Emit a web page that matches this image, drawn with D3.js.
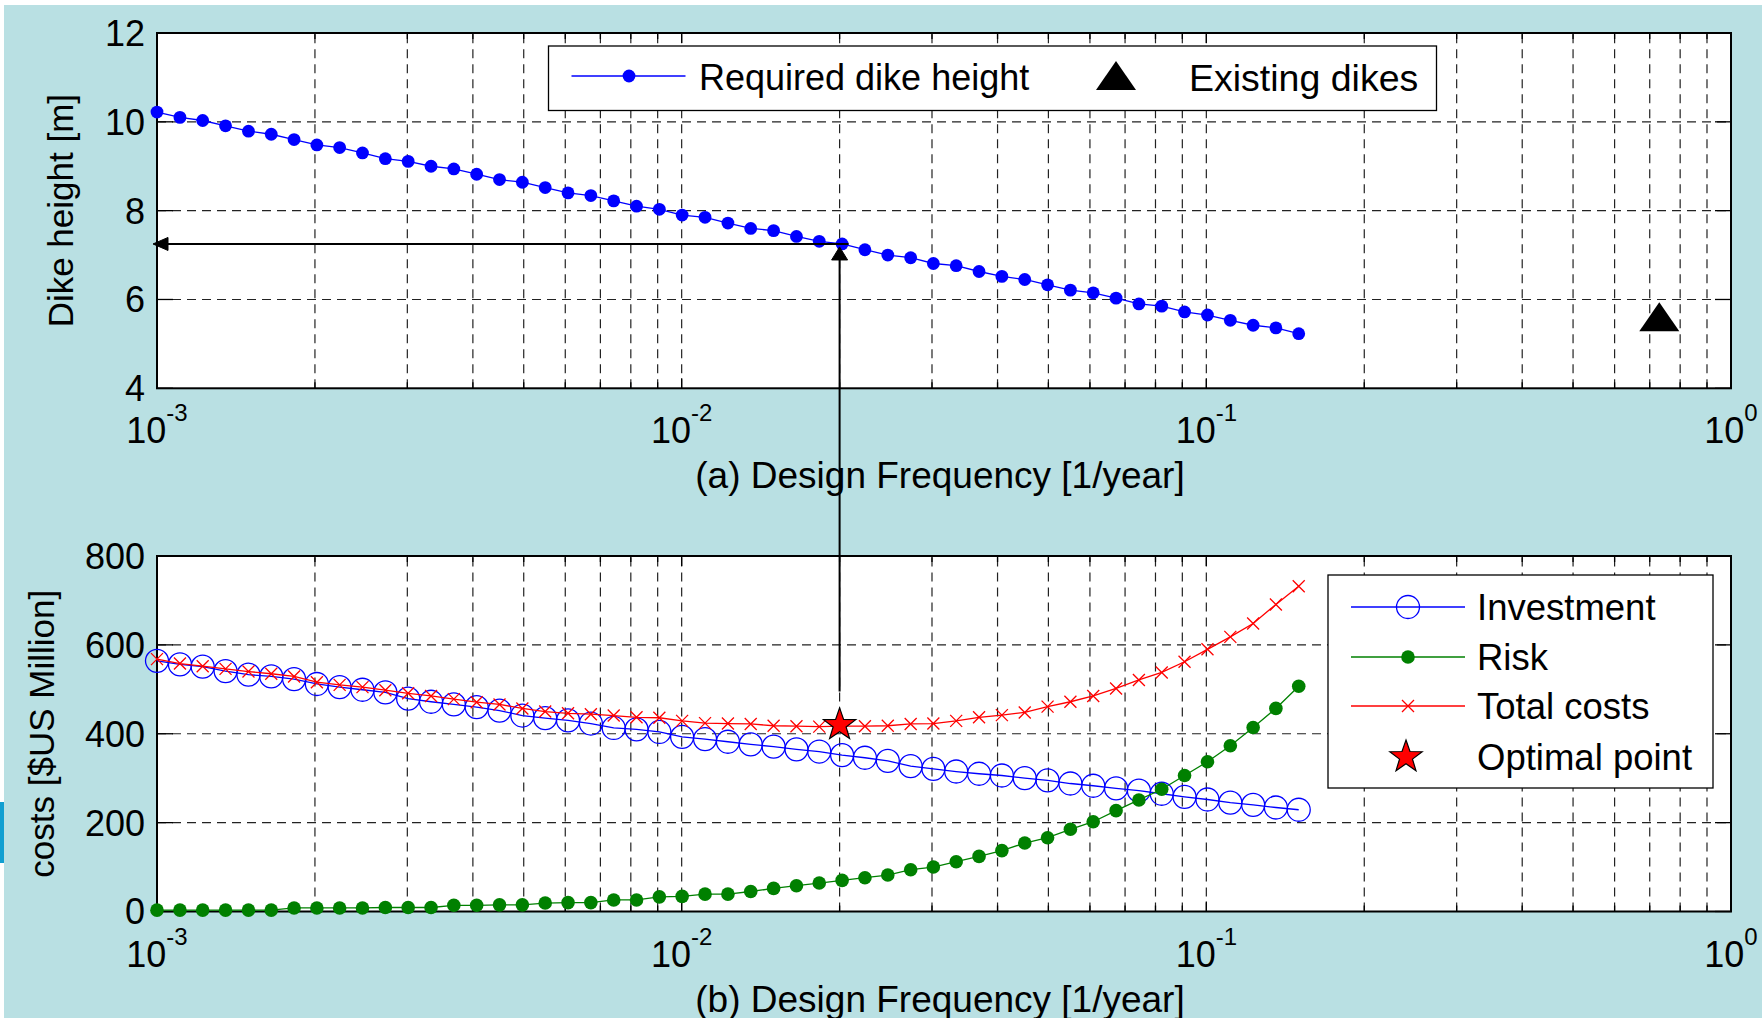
<!DOCTYPE html>
<html>
<head>
<meta charset="utf-8">
<script src="https://cdn.jsdelivr.net/npm/d3@7"></script>
<style>
    body { margin: 0; background: #fff; }
    svg text { font-family: "Liberation Sans", Arial, Helvetica, sans-serif; fill: #000; }
</style>
</head>
<body>
<div id="chart"></div>
<script>
// design frequency [1/year], log spaced from 1/1000 to 0.15
const freq = [0.001, 0.001106, 0.001222, 0.001351, 0.001494, 0.001651, 0.001825, 0.002017, 0.002229, 0.002464,
    0.002724, 0.003011, 0.003329, 0.003679, 0.004067, 0.004496, 0.004970, 0.005494, 0.006073, 0.006713,
    0.007421, 0.008203, 0.009067, 0.01002, 0.01108, 0.01225, 0.01354, 0.01497, 0.01655, 0.01829,
    0.02022, 0.02235, 0.02471, 0.02732, 0.03018, 0.03336, 0.03688, 0.04077, 0.04507, 0.04982,
    0.05507, 0.06087, 0.06729, 0.07438, 0.08222, 0.09088, 0.1005, 0.1111, 0.1228, 0.1357, 0.15];

// required dike height [m]
const dikeHeight = [10.22, 10.10, 10.03, 9.91, 9.79, 9.72, 9.60, 9.48, 9.42, 9.30,
    9.17, 9.11, 9.00, 8.94, 8.82, 8.70, 8.64, 8.52, 8.40, 8.34,
    8.22, 8.10, 8.03, 7.90, 7.85, 7.72, 7.60, 7.55, 7.42, 7.31,
    7.25, 7.12, 7.00, 6.94, 6.81, 6.76, 6.63, 6.52, 6.45, 6.33,
    6.21, 6.15, 6.03, 5.90, 5.85, 5.72, 5.65, 5.53, 5.42, 5.36, 5.23];

// costs [$US Million]
const investment = [564, 556, 551, 541, 533, 529, 523, 512, 505, 499,
    493, 479, 472, 466, 460, 452, 441, 435, 430, 423,
    413, 410, 404, 393, 388, 382, 376, 371, 365, 360,
    352, 346, 339, 327, 321, 315, 310, 306, 300, 295,
    288, 283, 277, 272, 265, 258, 252, 245, 240, 234, 229];

const risk = [3, 3, 3, 3, 3, 3, 8, 8, 8, 8,
    9, 9, 9, 14, 14, 15, 15, 19, 20, 20,
    26, 26, 33, 34, 39, 39, 45, 52, 58, 64,
    70, 76, 82, 94, 100, 112, 124, 137, 154, 166,
    185, 202, 227, 251, 275, 306, 337, 373, 414, 457, 507];

const totalCost = [568, 558, 552, 546, 540, 535, 529, 516, 510, 505,
    498, 491, 485, 478, 471, 466, 457, 450, 446, 444,
    441, 437, 436, 429, 424, 423, 422, 418, 417, 416,
    417, 417, 418, 422, 423, 429, 437, 442, 448, 461,
    472, 485, 502, 521, 538, 562, 590, 618, 648, 691, 732];

const existingDikes = [{f: 0.73, h: 5.6}];
const optimal = [{f: 0.02, cost: 420, height: 7.25}];
const arrowStartCost = 495;

const xTickValues = [1e-3, 1e-2, 1e-1, 1];
const xTickExp = ["-3", "-2", "-1", "0"];
const heightTicks = [4, 6, 8, 10, 12];
const costTicks = [0, 200, 400, 600, 800];

const costSeries = ["Investment", "Risk", "Total costs", "Optimal point"];

let width = 1762,
    height = 1018,
    left = 157,
    right = 1731,
    font_size = 36;

const svg = d3.select("#chart").append("svg")
    .attr("width", width)
    .attr("height", height);

svg.append("rect").attr("width", width).attr("height", height).attr("fill", "#fff");
svg.append("rect")
    .attr("x", 4).attr("y", 5)
    .attr("width", width - 4).attr("height", height - 5)
    .attr("fill", "#b9e0e3");
svg.append("rect")
    .attr("x", 0).attr("y", 802)
    .attr("width", 4).attr("height", 61)
    .attr("fill", "#119fd1");

const x = d3.scaleLog().domain([1e-3, 1]).range([left, right]);
const yTop = d3.scaleLinear().domain([4, 12]).range([388.3, 33]);
const yBot = d3.scaleLinear().domain([0, 800]).range([911.5, 556]);

function starPath(cx, cy, r) {
    let pts = [];
    for (let i = 0; i < 10; i++) {
        let rr = i % 2 ? r * 0.4 : r;
        let a = -Math.PI / 2 + i * Math.PI / 5;
        pts.push([cx + rr * Math.cos(a), cy + rr * Math.sin(a)]);
    }
    return "M" + pts.join("L") + "Z";
}

function trianglePath(cx, cy) {
    return `M${cx - 20},${cy + 14}L${cx + 20},${cy + 14}L${cx},${cy - 15}Z`;
}

function xMark(g, cx, cy, s) {
    g.append("path")
        .attr("d", `M${cx - s},${cy - s}L${cx + s},${cy + s}M${cx - s},${cy + s}L${cx + s},${cy - s}`)
        .attr("stroke", "#ff0000")
        .attr("stroke-width", 1.3)
        .attr("fill", "none");
}

function frame(y, yTicks, title, yTitle, yTitleX) {
    let [y0, y1] = y.range();
    let g = svg.append("g");

    g.append("rect")
        .attr("x", left).attr("y", y1)
        .attr("width", right - left).attr("height", y0 - y1)
        .attr("fill", "#fff");

    let grid = g.append("g")
        .attr("stroke", "#222")
        .attr("stroke-width", 1.2)
        .attr("stroke-dasharray", "9,6");

    grid.selectAll("line.v")
        .data(x.ticks().filter(d => d > 1e-3 && d < 1))
        .enter().append("line")
        .attr("class", "v")
        .attr("x1", d => x(d)).attr("x2", d => x(d))
        .attr("y1", y0).attr("y2", y1);

    grid.selectAll("line.h")
        .data(yTicks.slice(1, -1))
        .enter().append("line")
        .attr("class", "h")
        .attr("x1", left).attr("x2", right)
        .attr("y1", d => y(d)).attr("y2", d => y(d));

    // inside ticks
    let ticks = g.append("g").attr("stroke", "#000").attr("stroke-width", 1.3);
    x.ticks().forEach(d => {
        let len = xTickValues.includes(d) ? 10 : 6;
        ticks.append("line").attr("x1", x(d)).attr("x2", x(d)).attr("y1", y0).attr("y2", y0 - len);
        ticks.append("line").attr("x1", x(d)).attr("x2", x(d)).attr("y1", y1).attr("y2", y1 + len);
    });
    yTicks.forEach(d => {
        ticks.append("line").attr("x1", left).attr("x2", left + 16).attr("y1", y(d)).attr("y2", y(d));
        ticks.append("line").attr("x1", right).attr("x2", right - 16).attr("y1", y(d)).attr("y2", y(d));
    });

    g.append("rect")
        .attr("x", left).attr("y", y1)
        .attr("width", right - left).attr("height", y0 - y1)
        .attr("fill", "none")
        .attr("stroke", "#000")
        .attr("stroke-width", 2);

    g.selectAll("text.yl")
        .data(yTicks)
        .enter().append("text")
        .attr("class", "yl")
        .attr("x", 145)
        .attr("y", d => y(d))
        .attr("dy", "0.36em")
        .attr("text-anchor", "end")
        .style("font-size", font_size + "px")
        .text(d => d);

    g.selectAll("text.xl")
        .data(xTickValues)
        .enter().append("text")
        .attr("class", "xl")
        .attr("x", d => x(d))
        .attr("y", y0 + 55)
        .attr("text-anchor", "middle")
        .style("font-size", font_size + "px")
        .each(function (d, i) {
            let t = d3.select(this);
            t.append("tspan").text("10");
            t.append("tspan").attr("dy", -22).style("font-size", "24px").text(xTickExp[i]);
        });

    g.append("text")
        .attr("x", 940)
        .attr("y", y0 + 100)
        .attr("text-anchor", "middle")
        .style("font-size", "37px")
        .text(title);

    g.append("text")
        .attr("transform", `translate(${yTitleX},${(y0 + y1) / 2}) rotate(-90)`)
        .attr("text-anchor", "middle")
        .style("font-size", "35px")
        .text(yTitle);

    return g;
}

// ---- (a) dike height
let topPanel = frame(yTop, heightTicks, "(a) Design Frequency [1/year]", "Dike height [m]", 73);

let dikeData = freq.map((f, i) => ({f: f, v: dikeHeight[i]}));

topPanel.append("path")
    .datum(dikeData)
    .attr("fill", "none")
    .attr("stroke", "#0000ff")
    .attr("stroke-width", 1.3)
    .attr("d", d3.line().x(d => x(d.f)).y(d => yTop(d.v)));

topPanel.selectAll("circle.dike")
    .data(dikeData)
    .enter().append("circle")
    .attr("class", "dike")
    .attr("cx", d => x(d.f))
    .attr("cy", d => yTop(d.v))
    .attr("r", 6.4)
    .attr("fill", "#0000ff");

topPanel.selectAll("path.exist")
    .data(existingDikes)
    .enter().append("path")
    .attr("class", "exist")
    .attr("d", d => trianglePath(x(d.f), yTop(d.h)))
    .attr("fill", "#000");

// ---- (b) costs
let botPanel = frame(yBot, costTicks, "(b) Design Frequency [1/year]", "costs [$US Million]", 54);

let invData = freq.map((f, i) => ({f: f, v: investment[i]}));
let riskData = freq.map((f, i) => ({f: f, v: risk[i]}));
let totData = freq.map((f, i) => ({f: f, v: totalCost[i]}));
let costLine = d3.line().x(d => x(d.f)).y(d => yBot(d.v));

botPanel.append("path").datum(invData)
    .attr("fill", "none").attr("stroke", "#0000ff").attr("stroke-width", 1.3)
    .attr("d", costLine);
botPanel.selectAll("circle.inv")
    .data(invData)
    .enter().append("circle")
    .attr("class", "inv")
    .attr("cx", d => x(d.f))
    .attr("cy", d => yBot(d.v))
    .attr("r", 11.5)
    .attr("fill", "none")
    .attr("stroke", "#0000ff")
    .attr("stroke-width", 1.3);

botPanel.append("path").datum(riskData)
    .attr("fill", "none").attr("stroke", "#008000").attr("stroke-width", 1.3)
    .attr("d", costLine);
botPanel.selectAll("circle.risk")
    .data(riskData)
    .enter().append("circle")
    .attr("class", "risk")
    .attr("cx", d => x(d.f))
    .attr("cy", d => yBot(d.v))
    .attr("r", 6.8)
    .attr("fill", "#008000");

botPanel.append("path").datum(totData)
    .attr("fill", "none").attr("stroke", "#ff0000").attr("stroke-width", 1.3)
    .attr("d", costLine);
totData.forEach(d => xMark(botPanel, x(d.f), yBot(d.v), 6));

botPanel.selectAll("path.opt")
    .data(optimal)
    .enter().append("path")
    .attr("class", "opt")
    .attr("d", d => starPath(x(d.f), yBot(d.cost), 17))
    .attr("fill", "#ff0000")
    .attr("stroke", "#000")
    .attr("stroke-width", 1.2);

// ---- arrows from optimal point to dike height
let arrows = svg.append("g").attr("stroke", "#000").attr("stroke-width", 2).attr("fill", "#000");
optimal.forEach(d => {
    let ax = x(d.f), ay = yTop(d.height);
    arrows.append("line")
        .attr("x1", ax).attr("x2", ax)
        .attr("y1", yBot(arrowStartCost)).attr("y2", ay + 10);
    arrows.append("path")
        .attr("stroke-width", 1)
        .attr("d", `M${ax},${ay + 3}L${ax - 8},${ay + 16}L${ax + 8},${ay + 16}Z`);
    arrows.append("line")
        .attr("x1", ax + 9).attr("x2", x(1e-3) + 8)
        .attr("y1", ay).attr("y2", ay);
    let lx = x(1e-3) - 4;
    arrows.append("path")
        .attr("stroke-width", 1)
        .attr("d", `M${lx},${ay}L${lx + 15},${ay - 6.5}L${lx + 15},${ay + 6.5}Z`);
});

// ---- legends
let legTop = svg.append("g");
legTop.append("rect")
    .attr("x", 548.5).attr("y", 46)
    .attr("width", 888).attr("height", 64.5)
    .attr("fill", "#fff").attr("stroke", "#000").attr("stroke-width", 1.3);
legTop.append("line")
    .attr("x1", 571.5).attr("x2", 685.5).attr("y1", 76).attr("y2", 76)
    .attr("stroke", "#0000ff").attr("stroke-width", 1.3);
legTop.append("circle").attr("cx", 629).attr("cy", 76).attr("r", 6.4).attr("fill", "#0000ff");
legTop.append("text").attr("x", 699).attr("y", 77).attr("dy", "0.36em")
    .style("font-size", font_size + "px").text("Required dike height");
legTop.append("path").attr("d", trianglePath(1116, 76)).attr("fill", "#000");
legTop.append("text").attr("x", 1189).attr("y", 77).attr("dy", "0.36em")
    .style("font-size", "37.5px").text("Existing dikes");

let legBot = svg.append("g");
legBot.append("rect")
    .attr("x", 1328).attr("y", 575)
    .attr("width", 385).attr("height", 213)
    .attr("fill", "#fff").attr("stroke", "#000").attr("stroke-width", 1.3);
let rowY = [607, 657, 706, 757];
let rowColor = ["#0000ff", "#008000", "#ff0000", null];
costSeries.forEach((name, i) => {
    let yy = rowY[i];
    if (rowColor[i]) {
        legBot.append("line")
            .attr("x1", 1351).attr("x2", 1465).attr("y1", yy).attr("y2", yy)
            .attr("stroke", rowColor[i]).attr("stroke-width", 1.3);
    }
    if (i === 0) {
        legBot.append("circle").attr("cx", 1408).attr("cy", yy).attr("r", 11.5)
            .attr("fill", "none").attr("stroke", "#0000ff").attr("stroke-width", 1.3);
    } else if (i === 1) {
        legBot.append("circle").attr("cx", 1408).attr("cy", yy).attr("r", 6.8).attr("fill", "#008000");
    } else if (i === 2) {
        xMark(legBot, 1408, yy, 6);
    } else {
        legBot.append("path").attr("d", starPath(1406, yy, 17))
            .attr("fill", "#ff0000").attr("stroke", "#000").attr("stroke-width", 1.2);
    }
    legBot.append("text").attr("x", 1477).attr("y", yy).attr("dy", "0.36em")
        .style("font-size", "36.5px").text(name);
});
</script>
</body>
</html>
